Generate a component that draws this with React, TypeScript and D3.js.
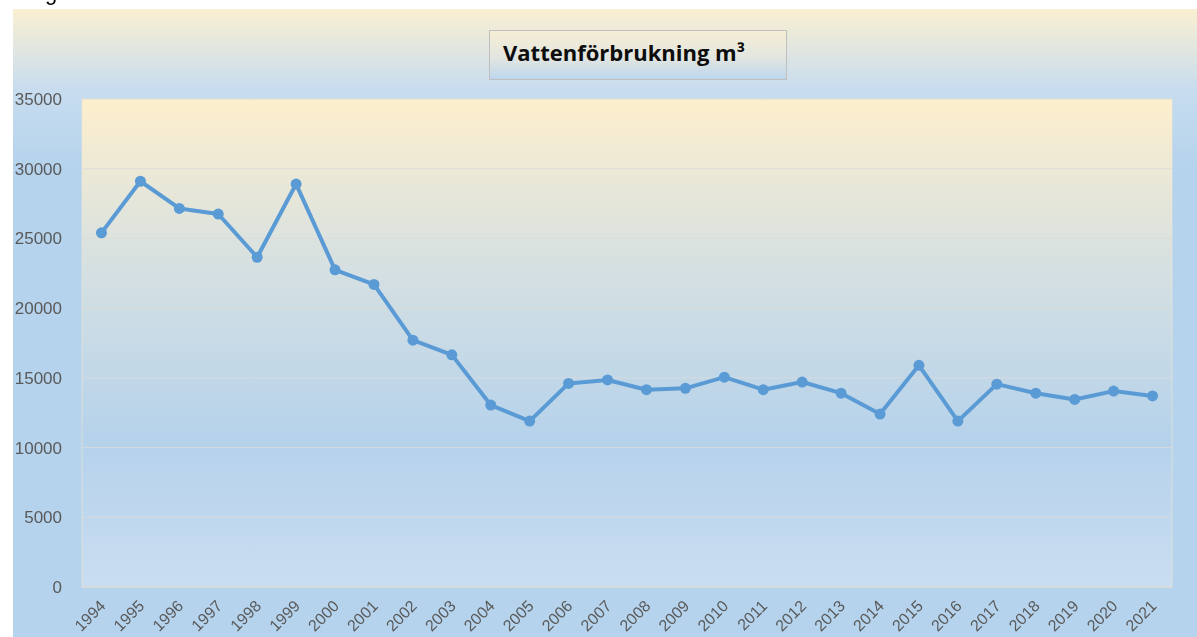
import React from 'react';
import * as d3 from 'd3';

const years = ['1994', '1995', '1996', '1997', '1998', '1999', '2000', '2001', '2002', '2003',
    '2004', '2005', '2006', '2007', '2008', '2009', '2010', '2011', '2012', '2013',
    '2014', '2015', '2016', '2017', '2018', '2019', '2020', '2021'];

const consumption = [25400, 29100, 27150, 26750, 23650, 28900, 22750, 21700, 17700, 16650,
    13050, 11900, 14600, 14850, 14150, 14250, 15050, 14150, 14700, 13900,
    12400, 15900, 11900, 14550, 13900, 13450, 14050, 13700];

const yTicks = [0, 5000, 10000, 15000, 20000, 25000, 30000, 35000];

const chartTitle = 'Vattenförbrukning m³';

const App = () => {
    const svgRef = React.useRef<SVGSVGElement | null>(null);

    React.useEffect(() => {
        const width = 1197,
            height = 637;
        const plot = { left: 82, right: 1172, top: 99, bottom: 587 };

        const svg = d3.select(svgRef.current);
        svg.selectAll('*').remove();
        svg.attr('width', width).attr('height', height);

        const defs = svg.append('defs');
        const outerGrad = defs.append('linearGradient')
            .attr('id', 'outerGrad').attr('x1', 0).attr('y1', 0).attr('x2', 0).attr('y2', 1);
        outerGrad.append('stop').attr('offset', '0%').attr('stop-color', '#faf0d2');
        outerGrad.append('stop').attr('offset', '13%').attr('stop-color', '#c7dcef');
        outerGrad.append('stop').attr('offset', '25%').attr('stop-color', '#b5d3ec');
        outerGrad.append('stop').attr('offset', '100%').attr('stop-color', '#b5d3ec');

        const plotGrad = defs.append('linearGradient')
            .attr('id', 'plotGrad').attr('x1', 0).attr('y1', 0).attr('x2', 0).attr('y2', 1);
        plotGrad.append('stop').attr('offset', '0%').attr('stop-color', '#fdefcd');
        plotGrad.append('stop').attr('offset', '35%').attr('stop-color', '#d5e0e2');
        plotGrad.append('stop').attr('offset', '70%').attr('stop-color', '#b5d2eb');
        plotGrad.append('stop').attr('offset', '100%').attr('stop-color', '#c9ddf1');

        const titleGrad = defs.append('linearGradient')
            .attr('id', 'titleGrad').attr('x1', 0).attr('y1', 0).attr('x2', 0).attr('y2', 1);
        titleGrad.append('stop').attr('offset', '0%').attr('stop-color', '#f6eed5');
        titleGrad.append('stop').attr('offset', '55%').attr('stop-color', '#e3e6e0');
        titleGrad.append('stop').attr('offset', '100%').attr('stop-color', '#bcd6ee');

        // cut-off text above the chart (only its descender shows)
        svg.append('text')
            .attr('x', 45).attr('y', 0)
            .style('font-family', 'Liberation Sans, Arial, sans-serif')
            .style('font-size', '22px')
            .attr('fill', '#000')
            .text('g');

        svg.append('rect')
            .attr('x', 13).attr('y', 9)
            .attr('width', width - 13).attr('height', height - 9)
            .attr('fill', 'url(#outerGrad)');

        const x = d3.scaleBand()
            .domain(years)
            .range([plot.left, plot.right]);
        const cx = (d: string) => (x(d) as number) + x.bandwidth() / 2;

        const y = d3.scaleLinear()
            .domain([0, 35000])
            .range([plot.bottom, plot.top]);

        svg.append('rect')
            .attr('x', plot.left).attr('y', plot.top)
            .attr('width', plot.right - plot.left).attr('height', plot.bottom - plot.top)
            .attr('fill', 'url(#plotGrad)')
            .attr('stroke', '#f3ead2')
            .attr('stroke-opacity', 0.6);

        // gridlines
        svg.selectAll('.grid')
            .data(yTicks)
            .join('line')
            .attr('x1', plot.left).attr('x2', plot.right)
            .attr('y1', d => y(d)).attr('y2', d => y(d))
            .attr('stroke', '#d9d9d9')
            .attr('stroke-opacity', d => d === 0 ? 1 : 0.8)
            .attr('stroke-width', d => d === 0 ? 1.5 : 1);

        // y labels
        svg.selectAll('.ylab')
            .data(yTicks)
            .join('text')
            .attr('x', 62)
            .attr('y', d => y(d))
            .attr('dy', '0.35em')
            .attr('text-anchor', 'end')
            .style('font-family', 'Liberation Sans, Arial, sans-serif')
            .style('font-size', '17px')
            .attr('fill', '#595959')
            .text(d => d);

        // x labels
        svg.selectAll('.xlab')
            .data(years)
            .join('text')
            .attr('transform', d => `translate(${cx(d) + 5},${607}) rotate(-45)`)
            .attr('text-anchor', 'end')
            .style('font-family', 'Liberation Sans, Arial, sans-serif')
            .style('font-size', '16px')
            .attr('fill', '#595959')
            .text(d => d);

        const line = d3.line<number>()
            .x((_, i) => cx(years[i]))
            .y(d => y(d));

        svg.append('path')
            .datum(consumption)
            .attr('d', line)
            .attr('fill', 'none')
            .attr('stroke', '#5b9bd5')
            .attr('stroke-width', 4)
            .attr('stroke-linejoin', 'round')
            .attr('stroke-linecap', 'round');

        svg.selectAll('.dot')
            .data(consumption)
            .join('circle')
            .attr('cx', (_, i) => cx(years[i]))
            .attr('cy', d => y(d))
            .attr('r', 5.5)
            .attr('fill', '#5b9bd5');

        // title box
        svg.append('rect')
            .attr('x', 489.5).attr('y', 30.5)
            .attr('width', 297).attr('height', 49)
            .attr('fill', 'url(#titleGrad)')
            .attr('stroke', '#bfbfbf')
            .attr('stroke-width', 1);

        svg.append('text')
            .attr('x', 503).attr('y', 61)
            .style('font-family', 'Open Sans, Liberation Sans, sans-serif')
            .style('font-weight', 'bold')
            .style('font-size', '22px')
            .attr('fill', '#0d0d0d')
            .text(chartTitle);
    }, []);

    return (
        <div style={{ position: 'fixed', left: 0, top: 0 }}>
            <svg ref={svgRef} style={{ display: 'block' }} />
        </div>
    );
};

export default App;
